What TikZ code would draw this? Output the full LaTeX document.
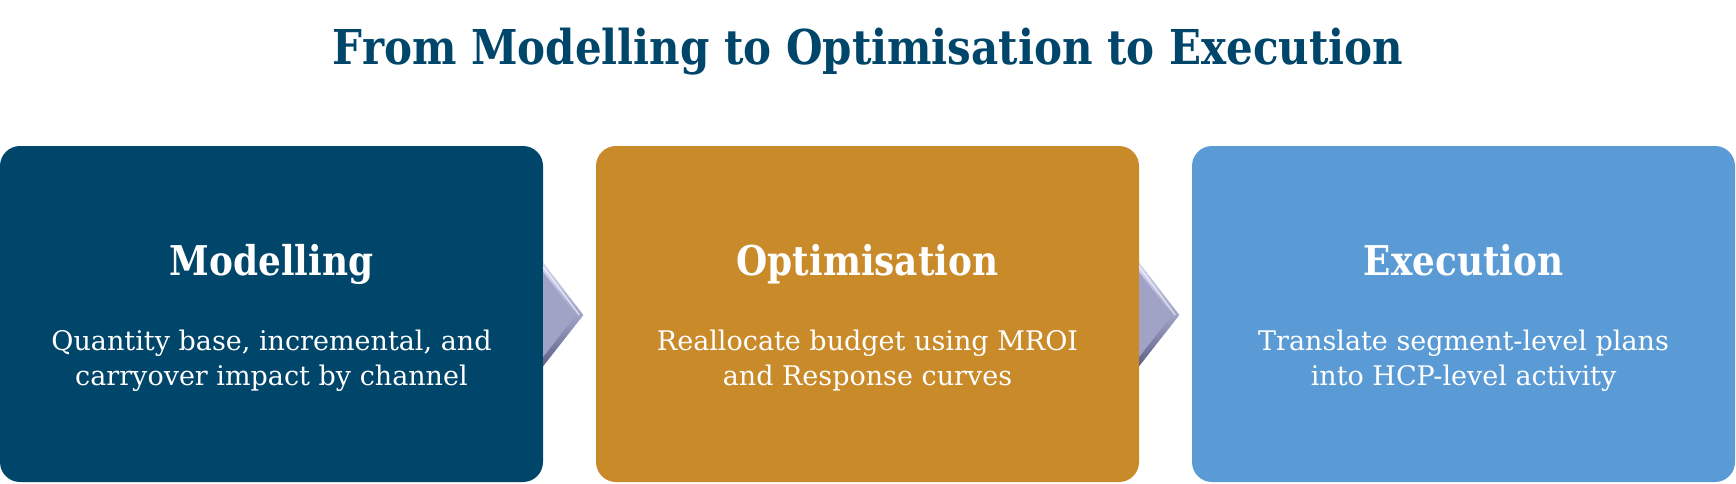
\documentclass[tikz,border=0pt]{standalone}
\usepackage{fontspec}
\setmainfont{DejaVu Serif}[BoldFeatures={FakeStretch=0.875}]
\usepackage{tikz}
\usetikzlibrary{positioning,calc}
\definecolor{navy}{HTML}{00456A}
\definecolor{gold}{HTML}{C98A2A}
\definecolor{sky}{HTML}{5B9BD5}
\definecolor{chev}{HTML}{A0A3C6}
\definecolor{chevlight}{HTML}{D6D8F2}
\definecolor{chevdark}{HTML}{5F6288}

\begin{document}
\begin{tikzpicture}[x=1pt, y=1pt,
  stage/.style={rounded corners=20pt, minimum width=543pt, minimum height=336pt, inner sep=0pt},
  headtxt/.style={text=white, font=\bfseries\fontsize{41}{48}\selectfont, anchor=base, inner sep=0pt},
  bodytxt/.style={text=white, align=center, font=\fontsize{27}{35}\selectfont, anchor=base, inner sep=0pt}]
\useasboundingbox (0,0) rectangle (1736,-483);

% title
\node[text=navy, font=\bfseries\fontsize{48}{56}\selectfont, anchor=base, inner sep=0pt] (title) at (868,-64) {From Modelling to Optimisation to Execution};

% the three stages (body anchored on its last line)
\foreach \n/\col/\head/\body [count=\i] in {m/navy/Modelling/{Quantity base, incremental, and\\carryover impact by channel},
    o/gold/Optimisation/{Reallocate budget using MROI\\and Response curves},
    e/sky/Execution/{Translate segment-level plans\\into HCP-level activity}} {
  \pgfmathsetmacro\xc{271.5+(\i-1)*596}
  \node[stage, fill=\col] (\n) at (\xc,-314) {};
  \node[headtxt] (\n-head) at ($(\n.center)+(0,39)$) {\head};
  \node[bodytxt] (\n-body) at ($(\n.center)+(0,-71)$) {\body};
}

% bevelled chevrons between the stages
\foreach \a in {m,o} {
  \coordinate (\a-top) at ($(\a.east)+(0,51)$);
  \coordinate (\a-tip) at ($(\a.east)+(40,-1)$);
  \coordinate (\a-bot) at ($(\a.east)+(0,-52)$);
  \fill[chev] (\a-top) -- (\a-tip) -- (\a-bot) -- cycle;
  \shade[top color=chev, bottom color=chevdark] ($(\a-tip)+(-7,0)$) -- (\a-tip) -- (\a-bot) -- ($(\a-bot)+(0,9)$) -- cycle;
  \shade[top color=chevlight, bottom color=chev] (\a-top) -- (\a-tip) -- ($(\a-tip)+(-7,0)$) -- ($(\a-top)+(0,-9)$) -- cycle;
  \draw[white, opacity=0.7, line width=1.2pt] ($(\a-top)+(0,-4)$) -- ($(\a-tip)+(-4,0)$);
}
\end{tikzpicture}
\end{document}
